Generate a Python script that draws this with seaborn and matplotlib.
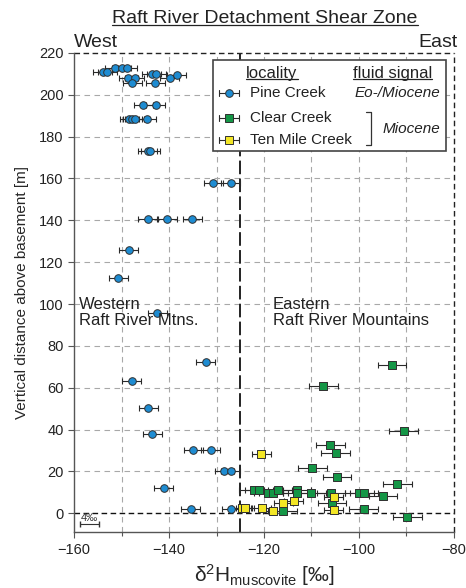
"""
Raft River Detachment Shear Zone: dD of muscovite vs. height above basement.
"""

import numpy as np
import pandas as pd
import matplotlib
matplotlib.use("Agg")
import matplotlib.pyplot as plt
import seaborn as sns
from matplotlib.lines import Line2D
from matplotlib.patches import Rectangle

# ============================================================
# Data
# ============================================================
pine_x = [-154.0, -153.0, -151.4, -150.0, -148.8, -143.6, -142.7, -139.8, -138.4,
          -148.6, -147.2, -147.7, -142.9, -145.4, -142.8, -148.4, -147.8, -147.2,
          -144.7, -144.5, -144.0, -130.7, -127.0, -144.5, -140.4, -135.1, -148.5,
          -150.7, -142.5, -132.3, -147.9, -144.4, -143.5, -134.9, -131.2, -128.4,
          -127.0, -141.1, -135.4, -126.9]
pine_y = [210.7, 210.7, 212.8, 212.8, 212.8, 209.8, 209.8, 208.2, 209.3,
          208.2, 208.2, 205.4, 205.4, 195.3, 195.3, 188.6, 188.6, 188.6,
          188.6, 173.2, 173.2, 157.8, 157.8, 140.7, 140.7, 140.7, 125.8,
          112.6, 95.5, 72.4, 63.3, 50.2, 38.1, 30.1, 30.1, 20.2,
          20.2, 12.2, 1.9, 2.1]

clear_x = [-93.0, -107.5, -90.6, -106.0, -104.9, -109.8, -104.6, -91.9,
           -122.2, -121.1, -119.1, -118.0, -117.0, -113.0, -113.0, -110.0, -105.9,
           -99.9, -98.9, -94.9, -105.7, -116.1, -99.0, -89.8]
clear_y = [70.8, 60.7, 39.4, 32.7, 29.0, 21.6, 17.3, 13.9,
           11.1, 11.1, 9.8, 9.8, 11.1, 11.1, 9.6, 9.5, 9.6,
           9.6, 9.6, 8.3, 4.8, 1.3, 2.2, -1.8]

tenmile_x = [-124.7, -124.0, -120.6, -120.5, -118.2, -115.9, -113.7, -105.3, -105.3]
tenmile_y = [2.4, 2.4, 28.4, 2.4, 1.0, 4.8, 5.9, 7.8, 1.4]

# analytical uncertainties (permil / m)
XERR = {'Pine Creek': 2.0, 'Clear Creek': 3.0, 'Ten Mile Creek': 2.0}
YERR = {'Pine Creek': 0.8, 'Clear Creek': 1.3, 'Ten Mile Creek': 1.0}

LOCALITIES = ['Pine Creek', 'Clear Creek', 'Ten Mile Creek']
COLORS = {'Pine Creek': '#1e8cd2', 'Clear Creek': '#149646', 'Ten Mile Creek': '#f3e625'}
MARKERS = {'Pine Creek': 'o', 'Clear Creek': 's', 'Ten Mile Creek': 's'}
SIZES = {'Pine Creek': 30, 'Clear Creek': 26, 'Ten Mile Creek': 26}
FLUID_SIGNAL = ['Eo-/Miocene', 'Miocene', 'Miocene']

X_TICKS = [-160, -140, -120, -100, -80]
Y_TICKS = list(range(0, 221, 20))

df = pd.concat([
    pd.DataFrame({'dD': pine_x, 'height': pine_y, 'locality': 'Pine Creek'}),
    pd.DataFrame({'dD': clear_x, 'height': clear_y, 'locality': 'Clear Creek'}),
    pd.DataFrame({'dD': tenmile_x, 'height': tenmile_y, 'locality': 'Ten Mile Creek'}),
], ignore_index=True)

# ============================================================
# Style
# ============================================================
sns.set_style("ticks")
plt.rcParams.update({
    'font.family': ['Liberation Sans', 'DejaVu Sans'],
    'mathtext.default': 'regular',
    'axes.edgecolor': '#555555',
    'axes.linewidth': 1.0,
    'xtick.color': '#555555',
    'ytick.color': '#555555',
    'xtick.labelcolor': '#222222',
    'ytick.labelcolor': '#222222',
    'xtick.labelsize': 10.5,
    'ytick.labelsize': 10.5,
})

GRID_KW = dict(color='#a8a8a8', lw=0.8, linestyle=(0, (5, 4)), zorder=0)

fig = plt.figure(figsize=(4.66, 5.88), dpi=100)
ax = fig.add_axes([0.159, 0.095, 0.815, 0.815])

# grid
for gx in range(-150, -80, 10):
    if gx != -125:
        ax.axvline(gx, **GRID_KW)
for gy in range(20, 220, 20):
    ax.axhline(gy, **GRID_KW)
ax.axhline(0, color='#111111', lw=1.0, linestyle=(0, (4, 2.5)), zorder=1)
ax.axhline(220, color='#222222', lw=1.0, linestyle=(0, (4, 2.5)), zorder=1, clip_on=False)
ax.axvline(-80, color='#222222', lw=1.0, linestyle=(0, (4, 2.5)), zorder=1, clip_on=False)
ax.axvline(-125, color='#222222', lw=1.4, linestyle=(0, (7, 2.2)), zorder=1)

# error bars then markers
for loc in LOCALITIES:
    sub = df[df['locality'] == loc]
    ax.errorbar(sub['dD'], sub['height'], xerr=XERR[loc], yerr=YERR[loc],
                fmt='none', ecolor='#2a2a2a', elinewidth=0.8, capsize=2,
                capthick=0.8, zorder=2)
    sns.scatterplot(data=sub, x='dD', y='height', marker=MARKERS[loc],
                    color=COLORS[loc], s=SIZES[loc], edgecolor='#303030',
                    linewidth=0.7, legend=False, zorder=3, ax=ax)

ax.set_xlim(-160, -80)
ax.set_ylim(-9, 220)
ax.set_xticks(X_TICKS)
ax.set_xticks(range(-150, -80, 10), minor=True)
ax.set_yticks(Y_TICKS)
ax.tick_params(axis='both', which='both', direction='out', length=4, width=0.8)
ax.tick_params(axis='x', which='minor', length=3)
sns.despine(ax=ax, top=True, right=True)

ax.set_xlabel('δ$^2$H$_{muscovite}$ [‰]', fontsize=15, labelpad=4)
ax.set_ylabel('Vertical distance above basement [m]', fontsize=11, labelpad=7)

# region annotations
ax.text(-158.9, 96, 'Western\nRaft River Mtns.', fontsize=12, va='center',
        linespacing=1.15, color='#222222')
ax.text(-118.1, 96, 'Eastern\nRaft River Mountains', fontsize=12, va='center',
        linespacing=1.15, color='#222222')
ax.text(0.0, 1.012, 'West', transform=ax.transAxes, fontsize=14, ha='left',
        va='baseline', color='#222222')
ax.text(1.01, 1.012, 'East', transform=ax.transAxes, fontsize=14, ha='right',
        va='baseline', color='#222222')

# 4 permil scale bar
ax.plot([-158.8, -154.8], [-5.3, -5.3], color='#333333', lw=0.8,
        marker='|', markersize=4, zorder=4)
ax.text(-156.8, -4.8, '4‰', fontsize=8, ha='center', va='bottom', color='#333333')

# ============================================================
# Custom legend
# ============================================================
ax.add_patch(Rectangle((0.366, 0.795), 0.613, 0.19, transform=ax.transAxes,
                       facecolor='white', edgecolor='#444444', lw=1.2, zorder=5))
hdr_loc = ax.text(0.453, 0.958, 'locality', transform=ax.transAxes, fontsize=12,
                  va='center', zorder=6, color='#222222')
hdr_sig = ax.text(0.942, 0.958, 'fluid signal', transform=ax.transAxes, fontsize=12,
                  va='center', ha='right', zorder=6, color='#222222')
row_y = [0.916, 0.864, 0.818]
for loc, yy, sig in zip(LOCALITIES, row_y, FLUID_SIGNAL):
    ax.add_line(Line2D([0.382, 0.434], [yy, yy], transform=ax.transAxes,
                       color='#2a2a2a', lw=0.8, zorder=6))
    for cx in (0.382, 0.434):
        ax.add_line(Line2D([cx, cx], [yy - 0.006, yy + 0.006], transform=ax.transAxes,
                           color='#2a2a2a', lw=0.8, zorder=6))
    ax.add_line(Line2D([0.408], [yy], transform=ax.transAxes, marker=MARKERS[loc],
                       markersize=5.5, markerfacecolor=COLORS[loc],
                       markeredgecolor='#303030', markeredgewidth=0.7, zorder=7))
    ax.text(0.463, yy, loc, transform=ax.transAxes, fontsize=11, va='center',
            zorder=6, color='#222222')
ax.text(0.963, row_y[0], FLUID_SIGNAL[0], transform=ax.transAxes, fontsize=11,
        style='italic', ha='right', va='center', zorder=6, color='#222222')
ax.text(0.963, 0.841, FLUID_SIGNAL[1], transform=ax.transAxes, fontsize=11,
        style='italic', ha='right', va='center', zorder=6, color='#222222')
ax.add_line(Line2D([0.768, 0.782, 0.782, 0.768], [0.876, 0.876, 0.808, 0.808],
                   transform=ax.transAxes, color='#333333', lw=0.9, zorder=6))

title = fig.text(0.569, 0.969, 'Raft River Detachment Shear Zone', fontsize=14,
                 ha='center', va='center', color='#222222')


def underline(text_artist, renderer, pad=1.5):
    bb = text_artist.get_window_extent(renderer=renderer)
    inv = fig.transFigure.inverted()
    (x0, y0), (x1, _) = inv.transform([(bb.x0, bb.y0 + pad), (bb.x1, bb.y0)])
    fig.add_artist(Line2D([x0, x1], [y0, y0], transform=fig.transFigure,
                          color='#222222', lw=0.9, zorder=10))


fig.canvas.draw()
renderer = fig.canvas.get_renderer()
for t in (title, hdr_loc, hdr_sig):
    underline(t, renderer)

fig.savefig('out.png', dpi=100)
